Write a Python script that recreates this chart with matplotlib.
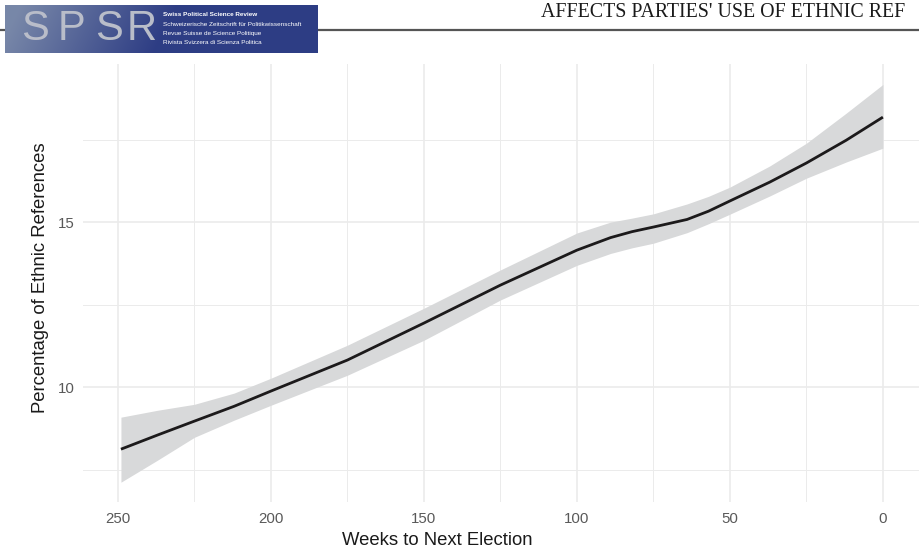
import numpy as np
import matplotlib.pyplot as plt

plt.rcParams['font.family'] = ['Liberation Sans', 'DejaVu Sans']

# values
weeks = [249, 237, 225, 212, 200, 175, 150, 125, 100, 89, 82, 75, 64, 57, 50, 37, 25, 12, 0]
fit = [8.12, 8.55, 8.97, 9.42, 9.88, 10.82, 11.94, 13.09, 14.15, 14.53, 14.71, 14.85,
       15.08, 15.33, 15.64, 16.21, 16.79, 17.48, 18.18]
upper = [9.09, 9.30, 9.48, 9.82, 10.27, 11.27, 12.39, 13.55, 14.67, 15.00, 15.12, 15.25,
         15.55, 15.78, 16.06, 16.70, 17.39, 18.30, 19.17]
lower = [7.12, 7.79, 8.48, 9.00, 9.45, 10.36, 11.42, 12.64, 13.69, 14.05, 14.22, 14.36,
         14.68, 14.95, 15.24, 15.79, 16.33, 16.82, 17.24]

x_major = [250, 200, 150, 100, 50, 0]
x_minor = [225, 175, 125, 75, 25]
y_major = [10, 15]
y_minor = [7.5, 12.5, 17.5]

header = "AFFECTS PARTIES' USE OF ETHNIC REF"
logo_lines = ['Swiss Political Science Review',
              'Schweizerische Zeitschrift für Politikwissenschaft',
              'Revue Suisse de Science Politique',
              'Rivista Svizzera di Scienza Politica']

W, H = 919, 549
fig = plt.figure(figsize=(W / 100, H / 100), dpi=100)

# journal header
fig.add_artist(plt.Line2D([0, 1], [1 - 29.5 / H] * 2, color='#555555', lw=1.6, zorder=-5))
fig.text(541 / W, 1 - 17 / H, header, family='Liberation Serif', fontsize=14.3,
         color='#1a1a1a', va='baseline', ha='left')

lx0, lx1, ly0, ly1 = 5, 318, 5, 53
lax = fig.add_axes([lx0 / W, 1 - ly1 / H, (lx1 - lx0) / W, (ly1 - ly0) / H])
gx = np.linspace(0, 1, 300)[None, :]
gy = np.linspace(0, 1, 50)[:, None]
c0 = np.array([0.47, 0.53, 0.66])
c1 = np.array([0.18, 0.24, 0.52])
t = np.clip(gx * 2.0 - 0.1 + 0.15 * gy, 0, 1)
img = c0[None, None, :] * (1 - t[..., None]) + c1[None, None, :] * t[..., None]
lax.imshow(img, aspect='auto', extent=[0, 1, 0, 1])
for ch, px in zip('SPSR', [21, 58, 95, 127]):
    lax.text((px - lx0) / (lx1 - lx0), 0.5, ch, color='#b9bdc9', fontsize=30,
             va='center', ha='left', transform=lax.transAxes)
for i, (s, py) in enumerate(zip(logo_lines, [15, 25, 34, 43])):
    lax.text((163 - lx0) / (lx1 - lx0), 1 - (py - ly0) / (ly1 - ly0), s,
             color='white', fontsize=4.6, va='center', ha='left',
             weight='bold' if i == 0 else 'normal', transform=lax.transAxes)
lax.set_axis_off()

# main panel
ax = fig.add_axes([83 / W, 47 / H, 836 / W, 438 / H])
ax.fill_between(weeks, lower, upper, color='#d8d9da', lw=0, zorder=2)
ax.plot(weeks, fit, color='#1c1a1b', lw=2.0, zorder=3, solid_capstyle='butt')

ax.set_xlim(261.4, -11.8)
ax.set_ylim(6.52, 19.79)
ax.set_xticks(x_major)
ax.set_xticks(x_minor, minor=True)
ax.set_yticks(y_major)
ax.set_yticks(y_minor, minor=True)
ax.grid(which='major', color='#ebebeb', lw=1.2, zorder=0)
ax.grid(which='minor', color='#ebebeb', lw=0.7, zorder=0)
ax.set_axisbelow(True)
for sp in ax.spines.values():
    sp.set_visible(False)
ax.tick_params(which='both', length=0)
ax.tick_params(axis='x', labelsize=10.8, labelcolor='#595959', pad=7)
ax.tick_params(axis='y', labelsize=10.8, labelcolor='#595959', pad=6)

fig.text(41 / W, 1 - 278 / H, 'Percentage of Ethnic References', rotation=90,
         ha='center', va='center', fontsize=13.3, color='#1a1a1a')
fig.text(437 / W, 1 - 545 / H, 'Weeks to Next Election', ha='center',
         va='baseline', fontsize=13.3, color='#1a1a1a')

fig.savefig('out.png', dpi=100)
